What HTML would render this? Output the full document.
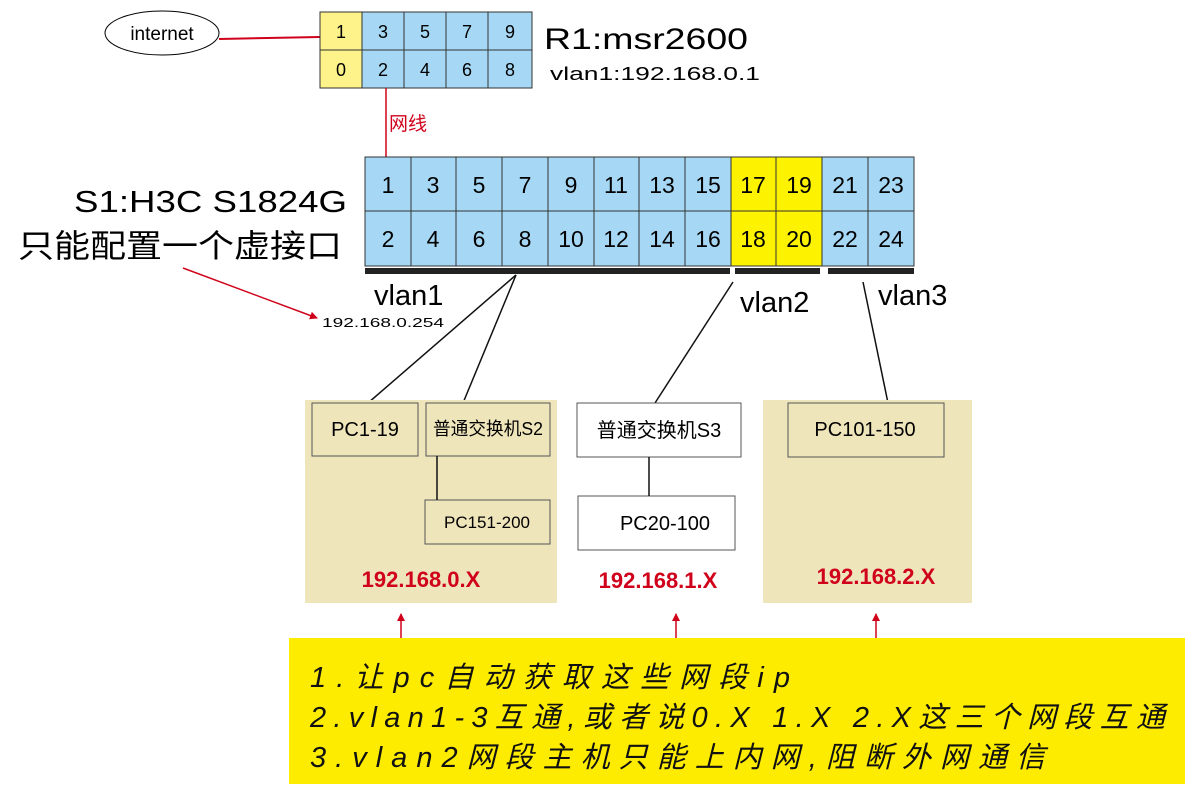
<!DOCTYPE html>
<html><head><meta charset="utf-8"><style>
body{margin:0;background:#fff}
svg text{font-family:"Liberation Sans","Noto Sans CJK SC",sans-serif}
</style></head><body>
<svg width="1201" height="786" viewBox="0 0 1201 786" xmlns="http://www.w3.org/2000/svg">
<defs><marker id="ar" markerWidth="8" markerHeight="8" refX="7" refY="4" orient="auto" markerUnits="userSpaceOnUse"><path d="M0,0 L8,4 L0,8 Z" fill="#d0021b"/></marker></defs>
<ellipse cx="162" cy="33" rx="57" ry="22" fill="#fff" stroke="#000" stroke-width="1"/>
<text x="162" y="40" font-size="19" text-anchor="middle">internet</text>
<line x1="219" y1="39" x2="320" y2="37" stroke="#d0021b" stroke-width="2"/>
<rect x="320" y="12" width="42" height="76" fill="#fef38a"/>
<rect x="362" y="12" width="170" height="76" fill="#a6d8f5"/>
<g stroke="#333" stroke-width="1" fill="none">
<rect x="320" y="12" width="212" height="76"/>
<line x1="320" y1="50" x2="532" y2="50"/>
<line x1="362" y1="12" x2="362" y2="88"/><line x1="404" y1="12" x2="404" y2="88"/><line x1="446" y1="12" x2="446" y2="88"/><line x1="488" y1="12" x2="488" y2="88"/>
</g>
<g font-size="18" text-anchor="middle">
<text x="341" y="38">1</text><text x="383" y="38">3</text><text x="425" y="38">5</text><text x="467" y="38">7</text><text x="510" y="38">9</text>
<text x="341" y="76">0</text><text x="383" y="76">2</text><text x="425" y="76">4</text><text x="467" y="76">6</text><text x="510" y="76">8</text>
</g>
<text x="544" y="49" font-size="30" textLength="204" lengthAdjust="spacingAndGlyphs">R1:msr2600</text>
<text x="550" y="80" font-size="18" textLength="210" lengthAdjust="spacingAndGlyphs">vlan1:192.168.0.1</text>
<line x1="386" y1="88" x2="386" y2="157" stroke="#d0021b" stroke-width="1.5"/>
<text x="389" y="130" font-size="19" fill="#d0021b">网线</text>
<rect x="365" y="157" width="549" height="109" fill="#a6d8f5"/>
<rect x="731" y="157" width="91" height="109" fill="#fdf200"/>
<g stroke="#333" stroke-width="1" fill="none">
<rect x="365" y="157" width="549" height="109"/>
<line x1="365" y1="211" x2="914" y2="211"/>
<line x1="411" y1="157" x2="411" y2="266"/><line x1="456" y1="157" x2="456" y2="266"/><line x1="502" y1="157" x2="502" y2="266"/><line x1="548" y1="157" x2="548" y2="266"/><line x1="594" y1="157" x2="594" y2="266"/><line x1="639" y1="157" x2="639" y2="266"/><line x1="685" y1="157" x2="685" y2="266"/><line x1="731" y1="157" x2="731" y2="266"/><line x1="776" y1="157" x2="776" y2="266"/><line x1="822" y1="157" x2="822" y2="266"/><line x1="868" y1="157" x2="868" y2="266"/>
</g>
<g font-size="23" text-anchor="middle">
<text x="388" y="193">1</text><text x="433" y="193">3</text><text x="479" y="193">5</text><text x="525" y="193">7</text><text x="571" y="193">9</text><text x="616" y="193">11</text><text x="662" y="193">13</text><text x="708" y="193">15</text><text x="753" y="193">17</text><text x="799" y="193">19</text><text x="845" y="193">21</text><text x="891" y="193">23</text>
<text x="388" y="247">2</text><text x="433" y="247">4</text><text x="479" y="247">6</text><text x="525" y="247">8</text><text x="571" y="247">10</text><text x="616" y="247">12</text><text x="662" y="247">14</text><text x="708" y="247">16</text><text x="753" y="247">18</text><text x="799" y="247">20</text><text x="845" y="247">22</text><text x="891" y="247">24</text>
</g>
<g fill="#222"><rect x="365" y="268" width="365" height="6"/><rect x="735" y="268" width="85" height="6"/><rect x="828" y="268" width="86" height="6"/></g>
<text x="74" y="212" font-size="31" textLength="273" lengthAdjust="spacingAndGlyphs">S1:H3C S1824G</text>
<text x="18" y="257" font-size="32" textLength="324" lengthAdjust="spacingAndGlyphs">只能配置一个虚接口</text>
<line x1="183" y1="268" x2="317" y2="318" stroke="#d0021b" stroke-width="1.5" marker-end="url(#ar)"/>
<text x="322" y="327" font-size="13" textLength="122" lengthAdjust="spacingAndGlyphs">192.168.0.254</text>
<text x="374" y="305" font-size="29">vlan1</text>
<text x="740" y="312" font-size="29">vlan2</text>
<text x="878" y="305" font-size="29">vlan3</text>
<g stroke="#111" stroke-width="1.5">
<line x1="516" y1="275" x2="368" y2="403"/><line x1="516" y1="275" x2="463" y2="403"/>
<line x1="733" y1="282" x2="655" y2="403"/><line x1="863" y1="282" x2="888" y2="403"/>
</g>
<rect x="305" y="400" width="252" height="203" fill="#efe5bb"/>
<rect x="763" y="400" width="209" height="203" fill="#efe5bb"/>
<g stroke="#555" stroke-width="1" fill="none">
<rect x="312" y="403" width="106" height="53"/><rect x="426" y="403" width="124" height="53"/><rect x="425" y="500" width="125" height="44"/>
<rect x="577" y="403" width="164" height="54"/><rect x="578" y="496" width="157" height="54"/>
<rect x="788" y="403" width="156" height="54"/>
</g>
<g stroke="#111" stroke-width="1.5"><line x1="437" y1="456" x2="437" y2="500"/><line x1="649" y1="457" x2="649" y2="496"/></g>
<text x="365" y="436" font-size="20" text-anchor="middle">PC1-19</text>
<text x="488" y="435" font-size="18" text-anchor="middle" textLength="110" lengthAdjust="spacingAndGlyphs">普通交换机S2</text>
<text x="487" y="528" font-size="17" text-anchor="middle">PC151-200</text>
<text x="659" y="437" font-size="20" text-anchor="middle">普通交换机S3</text>
<text x="665" y="530" font-size="20" text-anchor="middle">PC20-100</text>
<text x="865" y="436" font-size="20" text-anchor="middle">PC101-150</text>
<g font-size="22" font-weight="bold" fill="#d0021b" text-anchor="middle">
<text x="421" y="587">192.168.0.X</text><text x="658" y="588">192.168.1.X</text><text x="876" y="584">192.168.2.X</text>
</g>
<g stroke="#d0021b" stroke-width="1.5">
<line x1="401" y1="640" x2="401" y2="614" marker-end="url(#ar)"/>
<line x1="676" y1="640" x2="676" y2="614" marker-end="url(#ar)"/>
<line x1="876" y1="640" x2="876" y2="614" marker-end="url(#ar)"/>
</g>
<rect x="289" y="638" width="896" height="146" fill="#fdec00"/>
<g font-size="29" font-style="italic" fill="#111">
<text x="310" y="687" textLength="480" lengthAdjust="spacing">1.让pc自动获取这些网段ip</text>
<text x="310" y="727" textLength="855" lengthAdjust="spacing">2.vlan1-3互通,或者说0.X 1.X 2.X这三个网段互通</text>
<text x="310" y="767" textLength="735" lengthAdjust="spacing">3.vlan2网段主机只能上内网,阻断外网通信</text>
</g>
</svg>
</body></html>
